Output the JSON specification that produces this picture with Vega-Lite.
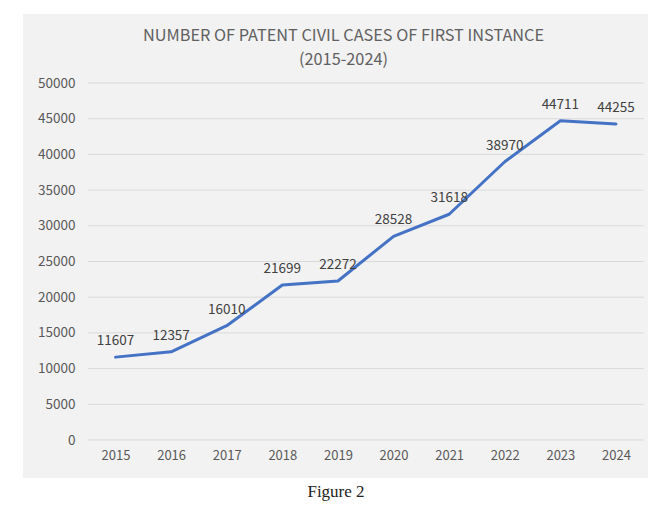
{
  "$schema": "https://vega.github.io/schema/vega-lite/v6.json",
  "width": 625,
  "height": 464,
  "autosize": {"type": "none"},
  "padding": {"left": 23, "top": 14, "right": 23, "bottom": 47},
  "background": "white",
  "config": {
    "view": {"fill": "#f2f2f2", "stroke": null},
    "font": "Noto Sans CJK SC"
  },
  "title": {
    "text": ["NUMBER OF PATENT CIVIL CASES OF FIRST INSTANCE", "(2015-2024)"],
    "fontSize": 16.3,
    "fontWeight": "normal",
    "color": "#606060",
    "lineHeight": 24,
    "anchor": "middle",
    "frame": "group",
    "offset": -54,
    "dx": 8
  },
  "datasets": {
    "cases": [
      {"year": 2015, "cases": 11607},
      {"year": 2016, "cases": 12357},
      {"year": 2017, "cases": 16010},
      {"year": 2018, "cases": 21699},
      {"year": 2019, "cases": 22272},
      {"year": 2020, "cases": 28528},
      {"year": 2021, "cases": 31618},
      {"year": 2022, "cases": 38970},
      {"year": 2023, "cases": 44711},
      {"year": 2024, "cases": 44255}
    ],
    "grid": [
      {"v": 0}, {"v": 5000}, {"v": 10000}, {"v": 15000}, {"v": 20000}, {"v": 25000},
      {"v": 30000}, {"v": 35000}, {"v": 40000}, {"v": 45000}, {"v": 50000}
    ]
  },
  "layer": [
    {
      "data": {"name": "grid"},
      "mark": {"type": "rule", "color": "#d9d9d9", "strokeWidth": 1},
      "encoding": {
        "x": {"datum": 2014.5, "type": "quantitative", "scale": {"domain": [2013.336, 2024.576], "nice": false, "zero": false},
          "axis": {"values": [2015, 2016, 2017, 2018, 2019, 2020, 2021, 2022, 2023, 2024], "format": "d", "orient": "bottom", "offset": -38,
            "domain": false, "ticks": false, "grid": false, "labelPadding": 9, "labelFontSize": 13, "labelColor": "#595959",
            "title": "Figure 2", "titleFont": "Liberation Serif", "titleFontSize": 17, "titleFontWeight": "normal", "titleColor": "#222222", "titlePadding": 21}},
        "x2": {"datum": 2024.5},
        "y": {"field": "v", "type": "quantitative", "scale": {"domain": [-5322, 59664], "nice": false, "zero": false},
          "axis": {"values": [0, 5000, 10000, 15000, 20000, 25000, 30000, 35000, 40000, 45000, 50000], "format": "d", "orient": "left", "offset": -64,
            "domain": false, "ticks": false, "grid": false, "labelPadding": 12, "labelFontSize": 13.5, "labelColor": "#595959", "title": null}}
      }
    },
    {
      "data": {"name": "cases"},
      "mark": {"type": "line", "color": "#4472c4", "strokeWidth": 3, "strokeJoin": "round", "strokeCap": "round"},
      "encoding": {
        "x": {"field": "year", "type": "quantitative"},
        "y": {"field": "cases", "type": "quantitative"}
      }
    },
    {
      "data": {"name": "cases"},
      "mark": {"type": "text", "dy": -16, "fontSize": 13.5, "color": "#404040"},
      "encoding": {
        "x": {"field": "year", "type": "quantitative"},
        "y": {"field": "cases", "type": "quantitative"},
        "text": {"field": "cases", "type": "quantitative", "format": "d"}
      }
    }
  ]
}
